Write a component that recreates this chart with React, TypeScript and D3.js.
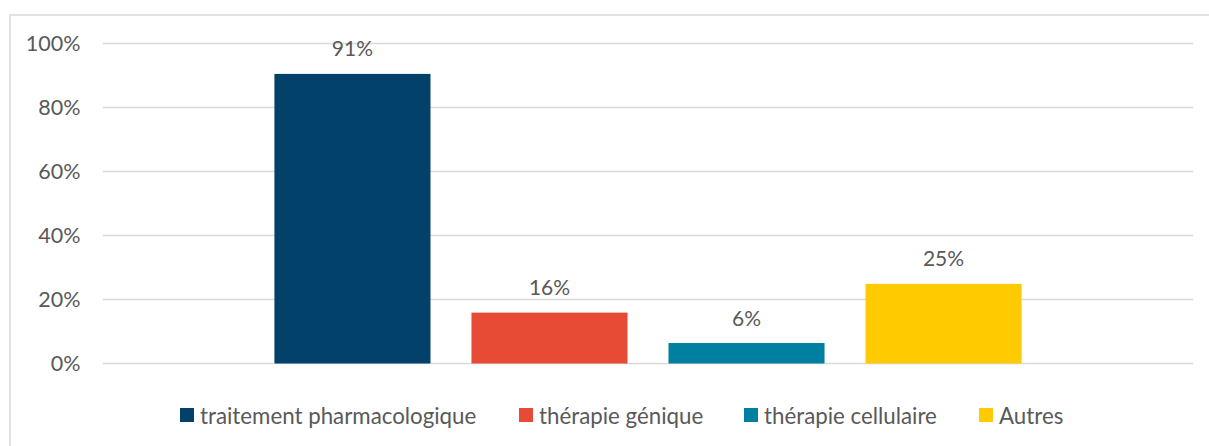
import React from "react";
import * as d3 from "d3";

const seriesNames = ["traitement pharmacologique", "thérapie génique", "thérapie cellulaire", "Autres"];
const seriesValues = [0.905, 0.159, 0.064, 0.249];
const seriesLabels = ["91%", "16%", "6%", "25%"];
const seriesColors = ["#02416A", "#E84B35", "#0080A0", "#FFCB00"];
const yTicks = [0, 0.2, 0.4, 0.6, 0.8, 1.0];

const W = 1209;
const H = 446;
const FONT = "Lato, 'Open Sans', sans-serif";
const TEXT = "#595959";
const GRID = "#D9D9D9";

export default function App() {
  const left = 103, right = 1193, top = 43.5, bottom = 363.5;
  const y = d3.scaleLinear().domain([0, 1]).range([bottom, top]);
  const x = d3.scaleBand<string>().domain(seriesNames).range([left, right]).paddingInner(0.208).paddingOuter(0.87);
  const fmt = d3.format(".0%");

  const legendX = [180, 519, 744, 979];

  return (
    <svg width={W} height={H} style={{ position: "absolute", left: 0, top: 0, background: "#fff" }} fontFamily={FONT}>
      <rect x={10} y={15} width={W + 20} height={H + 20} fill="#fff" stroke={GRID} strokeWidth={1.5} />
      {yTicks.map((t) => (
        <g key={t}>
          <line x1={left} x2={right} y1={y(t)} y2={y(t)} stroke={GRID} strokeWidth={1.5} />
          <text x={80.5} y={y(t) + 7.5} textAnchor="end" fontSize={21.5} fill={TEXT}>{fmt(t)}</text>
        </g>
      ))}
      {seriesNames.map((s, i) => (
        <g key={s}>
          <rect x={x(s)} y={y(seriesValues[i])} width={x.bandwidth()} height={y(0) - y(seriesValues[i])} fill={seriesColors[i]} />
          <text x={(x(s) as number) + x.bandwidth() / 2} y={y(seriesValues[i]) - 17.5} textAnchor="middle" fontSize={21} fill={TEXT}>{seriesLabels[i]}</text>
        </g>
      ))}
      {seriesNames.map((s, i) => (
        <g key={"l" + s} transform={`translate(${legendX[i]},408)`}>
          <rect x={0} y={0} width={14} height={14} fill={seriesColors[i]} />
          <text x={20} y={15.5} fontSize={22.3} fill={TEXT}>{s}</text>
        </g>
      ))}
    </svg>
  );
}
